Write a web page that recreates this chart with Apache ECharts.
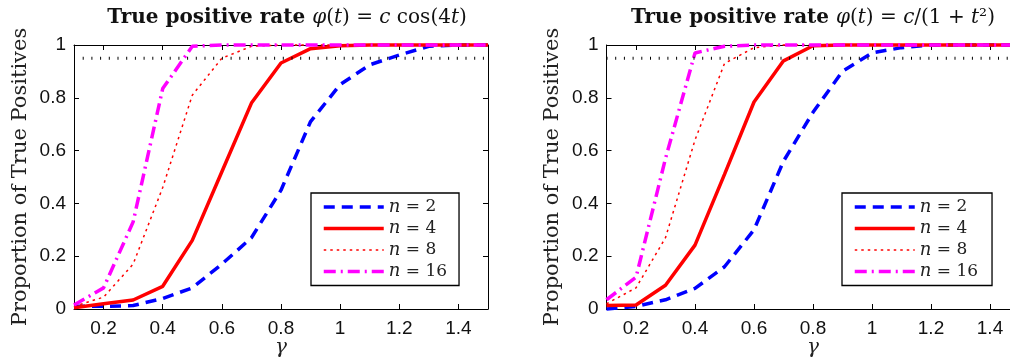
<!DOCTYPE html>
<html>
<head>
<meta charset="utf-8">
<script src="https://cdn.jsdelivr.net/npm/echarts@6/dist/echarts.min.js"></script>
<style>
  html, body { margin: 0; padding: 0; background: #fff; }
  #chart { width: 1010px; height: 358px; }
</style>
</head>
<body>
<div id="chart"></div>
<script>
// ---- Data ----
const gammaValues = [0.1, 0.2, 0.3, 0.4, 0.5, 0.6, 0.7, 0.8, 0.9, 1.0, 1.1, 1.2, 1.3, 1.4, 1.5];
const xTickValues = [0.2, 0.4, 0.6, 0.8, 1.0, 1.2, 1.4];
const yTickValues = [0, 0.2, 0.4, 0.6, 0.8, 1];
const threshold = 0.95;
const seriesNames = ['n = 2', 'n = 4', 'n = 8', 'n = 16'];

// left panel: phi(t) = c cos(4t)
const cosN2  = [0.01, 0.01, 0.013, 0.04, 0.08, 0.17, 0.27, 0.45, 0.71, 0.85, 0.925, 0.962, 0.995, 1, 1];
const cosN4  = [0.005, 0.02, 0.034, 0.086, 0.26, 0.52, 0.78, 0.932, 0.986, 0.997, 1, 1, 1, 1, 1];
const cosN8  = [0.01, 0.045, 0.17, 0.46, 0.81, 0.95, 0.995, 1, 1, 1, 1, 1, 1, 1, 1];
const cosN16 = [0.015, 0.08, 0.33, 0.835, 0.995, 1, 1, 1, 1, 1, 1, 1, 1, 1, 1];

// right panel: phi(t) = c/(1+t^2)
const ratN2  = [0.0, 0.01, 0.035, 0.078, 0.16, 0.30, 0.56, 0.745, 0.9, 0.97, 0.99, 1, 1, 1, 1];
const ratN4  = [0.013, 0.015, 0.09, 0.242, 0.51, 0.784, 0.94, 0.997, 1, 1, 1, 1, 1, 1, 1];
const ratN8  = [0.02, 0.08, 0.27, 0.64, 0.93, 0.99, 1, 1, 1, 1, 1, 1, 1, 1, 1];
const ratN16 = [0.035, 0.12, 0.57, 0.97, 0.995, 1, 1, 1, 1, 1, 1, 1, 1, 1, 1];

// ---- Styles ----
const SERIF = '"DejaVu Serif", "Liberation Serif", serif';
const SANS = '"Liberation Sans", Arial, sans-serif';
const lineStyles = [
  { color: '#0000ff', width: 3.5, type: [11, 7] },
  { color: '#ff0000', width: 3.5, type: 'solid' },
  { color: '#ff0000', width: 1.5, type: [2.5, 4] },
  { color: '#ff00ff', width: 3.5, type: [12, 5, 2, 5] }
];

function pairs(ys) { return gammaValues.map((x, i) => [x, ys[i]]); }
function fmt(v) { return String(+v.toFixed(1)); }

const grids = [
  { left: 74, top: 45, width: 414, height: 264, outerBoundsMode: 'none', containLabel: false },
  { left: 606.5, top: 45, width: 413, height: 264, outerBoundsMode: 'none', containLabel: false }
];

const xAxes = [], yAxes = [], series = [], legends = [], titles = [];

const panels = [
  { data: [cosN2, cosN4, cosN8, cosN16], titleX: 282, legendX: 311, padRight: 12,
    title: '{b|True positive rate }{i|φ}{r|(}{i|t}{r|) = }{i|c}{r| cos(4}{i|t}{r|)}' },
  { data: [ratN2, ratN4, ratN8, ratN16], titleX: 808, legendX: 842, padRight: 14,
    title: '{b|True positive rate }{i|φ}{r|(}{i|t}{r|) = }{i|c}{r|/(1 + }{i|t}{r|²)}' }
];

panels.forEach((p, g) => {
  xAxes.push({
    type: 'value', gridIndex: g, min: 0.1, max: 1.5, position: 'bottom',
    name: 'γ', nameLocation: 'middle', nameGap: 29, nameMoveOverlap: false,
    nameTextStyle: { fontFamily: SERIF, fontStyle: 'italic', fontSize: 20, color: '#222' },
    axisLine: { show: true, onZero: false, lineStyle: { color: '#000', width: 1 } },
    axisTick: { show: true, inside: true, length: 5, customValues: xTickValues, lineStyle: { color: '#000' } },
    axisLabel: { customValues: xTickValues, formatter: fmt, margin: 10, fontFamily: SANS, fontSize: 19, color: '#111' },
    splitLine: { show: false }
  });
  xAxes.push({
    type: 'value', gridIndex: g, min: 0.1, max: 1.5, position: 'top',
    axisLine: { show: true, onZero: false, lineStyle: { color: '#000', width: 1 } },
    axisTick: { show: true, inside: true, length: 5, customValues: xTickValues, lineStyle: { color: '#000' } },
    axisLabel: { show: false }, splitLine: { show: false }
  });
  yAxes.push({
    type: 'value', gridIndex: g, min: 0, max: 1, interval: 0.2, position: 'left',
    name: 'Proportion of True Positives', nameLocation: 'middle', nameGap: 43, nameMoveOverlap: false,
    nameTextStyle: { fontFamily: SERIF, fontSize: 21, color: '#222' },
    axisLine: { show: true, onZero: false, lineStyle: { color: '#000', width: 1 } },
    axisTick: { show: true, inside: true, length: 5, lineStyle: { color: '#000' } },
    axisLabel: { formatter: fmt, margin: 8, fontFamily: SANS, fontSize: 19, color: '#111' },
    splitLine: { show: false }
  });
  yAxes.push({
    type: 'value', gridIndex: g, min: 0, max: 1, interval: 0.2, position: 'right',
    axisLine: { show: true, onZero: false, lineStyle: { color: '#000', width: 1 } },
    axisTick: { show: true, inside: true, length: 5, lineStyle: { color: '#000' } },
    axisLabel: { show: false }, splitLine: { show: false }
  });

  const xi = g * 2, yi = g * 2;
  p.data.forEach((ys, k) => {
    series.push({
      type: 'line', name: seriesNames[k], xAxisIndex: xi, yAxisIndex: yi,
      data: pairs(ys), symbol: 'none', clip: false, z: 3 + k,
      lineStyle: lineStyles[k], itemStyle: { color: lineStyles[k].color },
      emphasis: { disabled: true }, animation: false
    });
  });
  series.push({
    type: 'line', name: 'threshold', xAxisIndex: xi, yAxisIndex: yi,
    data: [[gammaValues[0], threshold], [gammaValues[gammaValues.length - 1], threshold]],
    symbol: 'none', z: 8,
    lineStyle: { color: '#000', width: 3, type: [1, 7.7], cap: 'butt' },
    emphasis: { disabled: true }, animation: false
  });

  legends.push({
    show: true, orient: 'vertical', left: p.legendX, top: 193,
    data: seriesNames.map((nm, k) => ({
      name: nm,
      itemStyle: { opacity: 0 },
      lineStyle: { width: lineStyles[k].width, type: lineStyles[k].type, color: lineStyles[k].color, opacity: 1 }
    })),
    selectedMode: false,
    itemWidth: 60, itemHeight: 14, itemGap: 1.5,
    padding: [4, p.padRight, 4, 11],
    backgroundColor: '#fff', borderColor: '#000', borderWidth: 1.3,
    formatter: function (name) {
      return '{i|n}{r| = ' + name.split('= ')[1] + '}';
    },
    textStyle: {
      fontFamily: SERIF, fontSize: 17, color: '#222', lineHeight: 20,
      rich: {
        i: { fontFamily: SERIF, fontStyle: 'italic', fontSize: 18, color: '#222', lineHeight: 20 },
        r: { fontFamily: SERIF, fontSize: 17, color: '#222', lineHeight: 20 }
      }
    }
  });

  titles.push({
    text: p.title, left: p.titleX, top: 3, textAlign: 'center',
    textStyle: {
      fontFamily: SERIF, fontSize: 20, color: '#111', fontWeight: 'normal',
      rich: {
        b: { fontFamily: SERIF, fontWeight: 'bold', fontSize: 20, color: '#111' },
        i: { fontFamily: SERIF, fontStyle: 'italic', fontWeight: 'normal', fontSize: 20, color: '#111' },
        r: { fontFamily: SERIF, fontWeight: 'normal', fontSize: 20, color: '#111' }
      }
    }
  });
});

const chart = echarts.init(document.getElementById('chart'), null, { renderer: 'canvas' });
chart.setOption({
  animation: false,
  backgroundColor: '#fff',
  title: titles,
  grid: grids,
  xAxis: xAxes,
  yAxis: yAxes,
  legend: legends,
  series: series
});
</script>
</body>
</html>
